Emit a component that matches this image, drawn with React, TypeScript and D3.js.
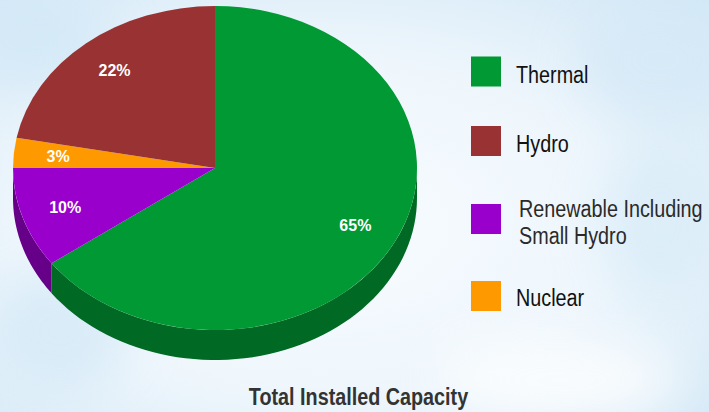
import React from "react";
import * as d3 from "d3";

// Data (clockwise from 12 o'clock, as drawn)
const sliceNames = ["Thermal", "Renewable Including Small Hydro", "Nuclear", "Hydro"];
const sliceValues = [65, 10, 3, 22];
const sliceLabels = ["65%", "10%", "3%", "22%"];

// Legend order
const legendNames = ["Thermal", "Hydro", "Renewable Including Small Hydro", "Nuclear"];
const legendLines = [["Thermal"], ["Hydro"], ["Renewable Including", "Small Hydro"], ["Nuclear"]];

const title = "Total Installed Capacity";

const topColors: Record<string, string> = {
  Thermal: "#009933",
  Hydro: "#993333",
  "Renewable Including Small Hydro": "#9900cc",
  Nuclear: "#ff9900",
};
const sideColors: Record<string, string> = {
  Thermal: "#006a24",
  Hydro: "#6b2222",
  "Renewable Including Small Hydro": "#660088",
  Nuclear: "#a86500",
};

const W = 709;
const H = 412;
const cx = 215;
const cy = 168;
const rx = 202;
const ry = 162;
const depth = 30;

function pt(t: number, dy = 0): [number, number] {
  return [cx + rx * Math.sin(t), cy - ry * Math.cos(t) + dy];
}

export default function App() {
  const pie = d3
    .pie<number>()
    .sort(null)
    .value((d) => d)
    .startAngle(0)
    .endAngle(2 * Math.PI);
  const arcs = pie(sliceValues);

  const topPath = (a0: number, a1: number) => {
    const p0 = pt(a0);
    const p1 = pt(a1);
    const large = a1 - a0 > Math.PI ? 1 : 0;
    return `M${cx},${cy} L${p0[0]},${p0[1]} A${rx},${ry} 0 ${large} 1 ${p1[0]},${p1[1]} Z`;
  };

  const sidePath = (a0: number, a1: number) => {
    const lo = Math.max(a0, Math.PI / 2);
    const hi = Math.min(a1, (3 * Math.PI) / 2);
    if (hi <= lo) return null;
    const n = 60;
    const ts = d3.range(n + 1).map((i) => lo + ((hi - lo) * i) / n);
    const topPts = ts.map((t) => pt(t));
    const botPts = ts.slice().reverse().map((t) => pt(t, depth));
    const line = d3.line();
    return line([...topPts, ...botPts]) + "Z";
  };

  const yLegend = [56.5, 126, 204, 281];
  const legendBaselines = [[83.3], [151.7], [216.7, 244], [305.7]];
  const textX = [516, 516, 519, 516];

  return (
    <svg
      width={W}
      height={H}
      style={{ position: "absolute", left: 0, top: 0, display: "block" }}
      fontFamily="'Liberation Sans', Arial, sans-serif"
    >
      <defs>
        <radialGradient id="bg" cx="0.45" cy="0.55" r="0.75">
          <stop offset="0" stopColor="#f8fcff" />
          <stop offset="0.55" stopColor="#eef6fc" />
          <stop offset="1" stopColor="#d3e8f6" />
        </radialGradient>
        <filter id="blur" x="-50%" y="-50%" width="200%" height="200%">
          <feGaussianBlur stdDeviation="25" />
        </filter>
      </defs>
      <rect x={0} y={0} width={W} height={H} fill="url(#bg)" />
      <g filter="url(#blur)" opacity={0.8}>
        <ellipse cx={40} cy={40} rx={70} ry={50} fill="#d2e8f7" />
        <ellipse cx={660} cy={60} rx={80} ry={60} fill="#d5e9f7" />
        <ellipse cx={560} cy={380} rx={120} ry={40} fill="#ffffff" />
        <ellipse cx={60} cy={330} rx={70} ry={60} fill="#d4e9f7" />
        <ellipse cx={660} cy={220} rx={60} ry={80} fill="#d9ecf8" />
      </g>

      {/* sides */}
      {arcs.map((a, i) => {
        const d = sidePath(a.startAngle, a.endAngle);
        return d ? <path key={"s" + i} d={d} fill={sideColors[sliceNames[i]]} /> : null;
      })}
      {/* tops */}
      {arcs.map((a, i) => (
        <path key={"t" + i} d={topPath(a.startAngle, a.endAngle)} fill={topColors[sliceNames[i]]} />
      ))}
      {/* labels */}
      {arcs.map((a, i) => {
        const mid = (a.startAngle + a.endAngle) / 2;
        const k = 0.78;
        const x = cx + rx * k * Math.sin(mid);
        const y = cy - ry * k * Math.cos(mid);
        return (
          <text
            key={"l" + i}
            x={x}
            y={y}
            dy="0.35em"
            textAnchor="middle"
            fill="#ffffff"
            fontWeight="bold"
            fontSize={16}
          >
            {sliceLabels[i]}
          </text>
        );
      })}

      {/* legend */}
      {legendNames.map((name, i) => (
        <g key={"lg" + i}>
          <rect x={471} y={yLegend[i]} width={30} height={30} fill={topColors[name]} />
          {legendLines[i].map((ln, j) => (
            <g key={j} transform={`translate(${textX[i]},${legendBaselines[i][j]}) scale(0.86,1)`}>
              <text x={0} y={0} fontSize={23} fill={i === 2 ? "#2a2a2a" : "#111111"}>
                {ln}
              </text>
            </g>
          ))}
        </g>
      ))}

      {/* title */}
      <g transform={`translate(358.5,405) scale(0.86,1)`}>
        <text x={0} y={0} textAnchor="middle" fontSize={23} fontWeight="bold" fill="#333333">
          {title}
        </text>
      </g>
    </svg>
  );
}
